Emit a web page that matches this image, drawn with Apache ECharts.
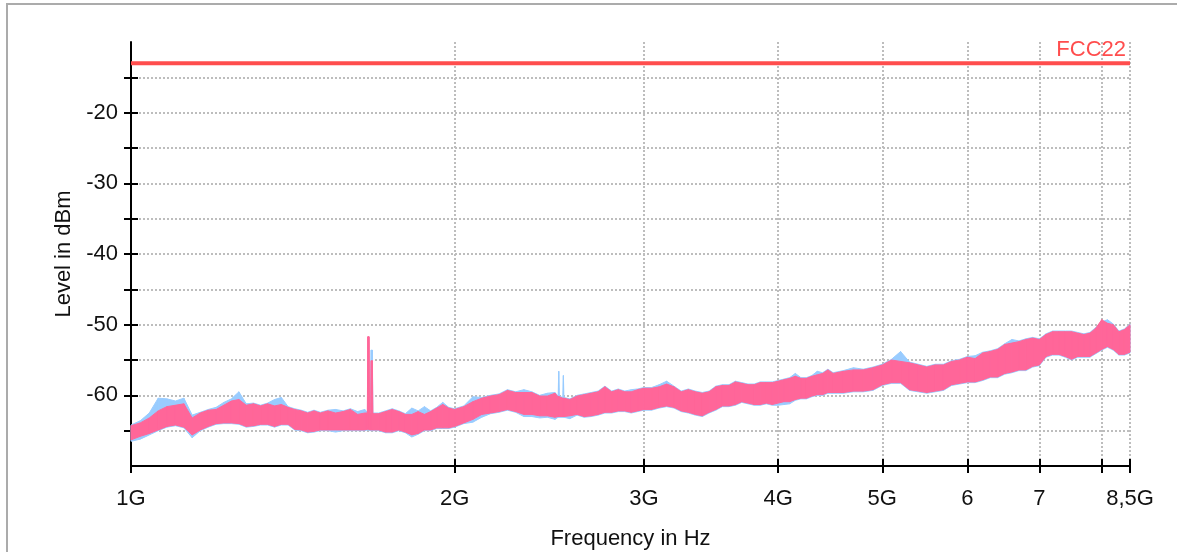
<!DOCTYPE html>
<html>
<head>
<meta charset="utf-8">
<title>Level in dBm vs frequency</title>
<script src="https://cdn.jsdelivr.net/npm/echarts@6/dist/echarts.min.js"></script>
<style>
  html, body { margin: 0; padding: 0; background: #fff; overflow: hidden; }
  #frame {
    position: absolute; left: 6px; top: 3px; width: 1300px; height: 700px;
    border: 2px solid #ababab; box-sizing: border-box;
  }
  #main { position: absolute; left: 0; top: 0; width: 1177px; height: 552px; }
</style>
</head>
<body>
<div id="frame"></div>
<div id="main"></div>
<script>
// frequency in GHz
const freqGHz = [
  1.00, 1.02, 1.04, 1.06, 1.08, 1.10, 1.12, 1.14, 1.16, 1.18,
  1.20, 1.22, 1.24, 1.26, 1.28, 1.30, 1.32, 1.34, 1.36, 1.38,
  1.40, 1.42, 1.44, 1.46, 1.48, 1.50, 1.525, 1.55, 1.575, 1.60,
  1.625, 1.65, 1.659, 1.661, 1.665, 1.667, 1.671, 1.673, 1.677, 1.679,
  1.70, 1.725, 1.75, 1.775, 1.80, 1.825, 1.85, 1.875, 1.90, 1.925,
  1.95, 1.975, 2.00, 2.04, 2.08, 2.12, 2.16, 2.20, 2.24, 2.28,
  2.32, 2.36, 2.40, 2.44, 2.48, 2.497, 2.500, 2.503, 2.522, 2.525,
  2.528, 2.56, 2.60, 2.64, 2.68, 2.72, 2.76, 2.80, 2.84, 2.88,
  2.92, 2.96, 3.00, 3.05, 3.10, 3.15, 3.20, 3.25, 3.30, 3.35,
  3.40, 3.45, 3.50, 3.55, 3.60, 3.65, 3.70, 3.75, 3.80, 3.85,
  3.90, 3.95, 4.00, 4.05, 4.10, 4.15, 4.20, 4.25, 4.30, 4.35,
  4.40, 4.45, 4.50, 4.60, 4.70, 4.80, 4.90, 5.00, 5.10, 5.20,
  5.30, 5.40, 5.50, 5.60, 5.70, 5.80, 5.90, 6.00, 6.10, 6.20,
  6.30, 6.40, 6.50, 6.60, 6.70, 6.80, 6.90, 7.00, 7.10, 7.20,
  7.30, 7.40, 7.50, 7.60, 7.70, 7.80, 7.90, 8.00, 8.10, 8.20,
  8.30, 8.40, 8.50
];

// pink trace, top and bottom of the noise band (dBm)
const pinkHi = [
  -64.3, -63.9, -63.2, -62.2, -61.6, -61.4, -61.2, -63.2, -62.5, -62.1,
  -62.0, -61.4, -60.8, -60.6, -61.4, -61.2, -61.5, -61.2, -61.5, -61.3,
  -61.7, -62.0, -62.2, -62.5, -62.2, -62.5, -62.2, -62.5, -62.3, -62.0,
  -62.7, -62.5, -62.5, -51.7, -51.7, -62.6, -62.6, -55.1, -55.1, -62.6,
  -62.6, -62.3, -62.0, -62.3, -62.7, -62.7, -62.3, -62.7, -62.3, -61.8,
  -61.3, -61.8, -62.0, -61.6, -60.9, -60.4, -60.1, -59.9, -59.3, -59.6,
  -59.6, -59.6, -60.1, -60.1, -59.7, -60.2, -60.2, -60.2, -60.4, -60.4,
  -60.4, -60.6, -60.1, -59.9, -59.7, -59.5, -58.8, -59.5, -59.2, -59.5,
  -59.5, -59.2, -59.0, -59.0, -58.8, -58.4, -58.8, -59.5, -59.2, -59.5,
  -59.7, -59.5, -58.8, -58.6, -58.6, -58.1, -58.3, -58.5, -58.5, -58.2,
  -58.2, -58.2, -58.0, -57.8, -57.6, -57.3, -57.6, -57.6, -57.3, -57.1,
  -56.9, -56.4, -56.9, -56.6, -56.4, -56.4, -56.1, -55.7, -55.0, -55.2,
  -55.4, -55.7, -56.0, -55.7, -55.7, -55.2, -55.0, -54.6, -54.8, -54.0,
  -53.8, -53.5, -52.8, -52.6, -52.4, -52.1, -51.9, -52.1, -51.4, -51.0,
  -51.0, -51.0, -51.0, -51.2, -51.4, -51.2, -50.5, -49.3, -49.8, -50.0,
  -51.0, -50.7, -50.0
];
const pinkLo = [
  -66.3, -65.8, -65.4, -64.9, -64.4, -64.2, -64.5, -65.6, -64.9, -64.4,
  -64.0, -63.9, -63.9, -64.0, -64.4, -64.3, -64.1, -64.1, -64.4, -64.1,
  -64.1, -64.8, -64.9, -65.2, -65.1, -64.9, -64.9, -64.9, -64.9, -64.9,
  -64.9, -64.9, -64.8, -64.8, -64.8, -64.9, -64.9, -64.9, -64.9, -64.9,
  -64.9, -65.2, -65.2, -64.9, -65.2, -65.6, -65.4, -64.9, -64.9, -64.6,
  -64.6, -64.6, -64.4, -63.9, -63.4, -62.7, -62.5, -62.3, -62.0, -62.3,
  -62.7, -62.7, -62.9, -62.9, -63.1, -63.0, -63.0, -63.0, -63.0, -63.0,
  -63.0, -62.9, -62.7, -63.0, -62.9, -62.7, -62.4, -62.4, -62.2, -62.2,
  -62.4, -62.2, -62.0, -62.0, -61.7, -61.5, -61.7, -62.2, -62.4, -62.7,
  -62.9, -62.4, -62.0, -61.5, -61.5, -61.3, -60.9, -61.1, -61.3, -61.3,
  -61.1, -61.3, -61.1, -60.9, -60.9, -60.6, -60.4, -60.4, -60.1, -59.9,
  -59.9, -59.6, -59.6, -59.6, -59.4, -59.4, -59.2, -58.5, -58.2, -58.2,
  -59.2, -59.4, -59.6, -59.4, -59.2, -58.5, -58.3, -58.1, -58.1, -57.8,
  -57.4, -57.4, -56.9, -56.7, -56.4, -56.4, -55.9, -55.7, -54.5, -54.2,
  -54.2, -54.5, -54.9, -54.5, -54.5, -54.5, -54.0, -53.5, -53.1, -53.5,
  -54.2, -54.2, -53.9
];

// blue trace, top and bottom of the noise band (dBm)
const blueHi = [
  -64.2, -63.6, -62.5, -60.4, -60.5, -60.8, -60.4, -62.8, -62.4, -62.0,
  -61.7, -61.0, -60.5, -59.5, -61.2, -61.1, -61.4, -61.1, -60.6, -60.3,
  -61.6, -61.9, -62.1, -62.4, -62.1, -62.4, -62.1, -62.0, -62.2, -61.9,
  -62.3, -62.0, -62.4, -62.4, -62.4, -62.5, -62.5, -53.6, -53.6, -62.5,
  -62.5, -62.2, -61.9, -62.2, -62.6, -61.8, -62.2, -61.6, -62.2, -61.7,
  -61.0, -61.7, -61.9, -61.5, -60.2, -60.3, -60.0, -59.8, -59.2, -59.5,
  -59.2, -59.5, -60.0, -59.7, -59.6, -60.1, -56.6, -60.1, -60.3, -57.2,
  -60.3, -60.5, -60.0, -59.8, -59.6, -59.4, -58.7, -59.4, -59.1, -59.4,
  -59.2, -59.1, -58.9, -58.9, -58.5, -58.0, -58.7, -59.4, -59.1, -59.4,
  -59.6, -59.4, -58.7, -58.5, -58.5, -58.0, -58.2, -58.4, -58.4, -58.1,
  -58.1, -58.1, -57.9, -57.7, -57.5, -56.9, -57.5, -57.5, -57.2, -56.6,
  -56.8, -56.3, -56.8, -56.5, -56.1, -56.3, -56.0, -55.6, -54.9, -53.8,
  -55.3, -55.6, -55.9, -55.6, -55.6, -55.1, -54.9, -54.5, -54.4, -53.9,
  -53.7, -53.4, -52.7, -52.1, -52.3, -52.0, -51.8, -52.0, -51.3, -50.9,
  -50.9, -50.9, -50.9, -51.1, -51.3, -51.1, -50.4, -49.6, -49.3, -49.9,
  -50.9, -50.6, -49.9
];
const blueLo = [
  -66.5, -66.2, -65.6, -65.0, -64.5, -64.3, -64.6, -66.0, -65.0, -64.5,
  -64.1, -64.0, -64.0, -64.1, -64.5, -64.4, -64.2, -64.2, -64.5, -64.2,
  -64.2, -64.9, -65.0, -65.3, -65.2, -65.0, -65.0, -65.2, -65.0, -65.0,
  -65.0, -65.0, -64.9, -64.9, -64.9, -65.0, -65.0, -65.0, -65.0, -65.0,
  -65.0, -65.3, -65.3, -65.0, -65.3, -65.9, -65.5, -65.0, -65.0, -64.7,
  -64.7, -64.7, -64.5, -64.0, -63.8, -63.1, -62.6, -62.4, -62.1, -62.4,
  -63.0, -63.0, -63.2, -63.1, -63.4, -63.1, -63.1, -63.1, -63.1, -63.1,
  -63.1, -63.3, -62.8, -63.1, -63.0, -62.8, -62.5, -62.5, -62.3, -62.3,
  -62.5, -62.3, -62.1, -62.1, -61.8, -61.6, -61.8, -62.3, -62.5, -62.8,
  -63.0, -62.5, -62.1, -61.6, -61.6, -61.4, -61.0, -61.2, -61.4, -61.4,
  -61.2, -61.4, -61.4, -61.3, -61.2, -60.7, -60.5, -60.5, -60.2, -60.0,
  -60.0, -59.7, -59.7, -59.7, -59.5, -59.5, -59.3, -58.6, -58.3, -58.3,
  -59.3, -59.5, -59.7, -59.5, -59.3, -58.6, -58.4, -58.2, -58.2, -57.9,
  -57.5, -57.5, -57.0, -56.8, -56.5, -56.5, -56.0, -55.8, -54.6, -54.3,
  -54.3, -54.6, -55.0, -54.6, -54.6, -54.6, -54.1, -53.6, -53.2, -53.6,
  -54.3, -54.3, -54.0
];

// limit line
const limitName = "FCC22";
const limitLevel = -13;

// axes
const xTickValues = [1, 2, 3, 4, 5, 6, 7, 8, 8.5];
const xLabelValues = [1, 2, 3, 4, 5, 6, 7, 8.5];
const xLabelText = ["1G", "2G", "3G", "4G", "5G", "6", "7", "8,5G"];
const yTickValues = [-65, -60, -55, -50, -45, -40, -35, -30, -25, -20, -15];
const yLabelValues = [-60, -50, -40, -30, -20];

const FONT = '"Liberation Sans", Arial, Helvetica, sans-serif';
const PINK = "#ff6699";
const BLUE = "#99ccff";
const RED = "#ff4d4d";
const GRID = "#bdbdbd";

let myChart = echarts.init(document.getElementById("main"), null, { renderer: "canvas" });

// noise band: one filled quad per frequency step, [f, lo, hi, fNext, loNext, hiNext]
function band(name, lo, hi, color) {
  const data = [];
  for (let i = 0; i < freqGHz.length - 1; i++) {
    data.push([freqGHz[i], lo[i], hi[i], freqGHz[i + 1], lo[i + 1], hi[i + 1]]);
  }
  return {
    name: name, type: "custom", silent: true, data: data,
    encode: { x: [0, 3], y: [1, 2, 4, 5] },
    renderItem: function (params, api) {
      const pts = [
        api.coord([api.value(0), api.value(1)]),
        api.coord([api.value(0), api.value(2)]),
        api.coord([api.value(3), api.value(5)]),
        api.coord([api.value(3), api.value(4)]),
      ];
      return {
        type: "polygon",
        shape: { points: pts },
        style: { fill: color, stroke: color, lineWidth: 1 },
      };
    },
  };
}

function xLabel(v) {
  const i = xLabelValues.findIndex((t) => Math.abs(t - v) < 1e-3);
  return i < 0 ? "" : xLabelText[i];
}

const axisLine = { show: true, onZero: false, lineStyle: { color: "#000", width: 2 } };
const tickStyle = { color: "#000", width: 2 };

let option = {
  animation: false,
  backgroundColor: "transparent",
  grid: { left: 131, right: 47, top: 42, bottom: 86, outerBoundsMode: "none" },
  xAxis: [
    {
      type: "log", logBase: 10, min: 1, max: 8.5, position: "bottom",
      name: "Frequency in Hz", nameLocation: "middle", nameGap: 62,
      nameTextStyle: { color: "#111", fontSize: 22, fontFamily: FONT },
      axisLine: axisLine,
      axisTick: { show: true, inside: false, length: 7, lineStyle: tickStyle, customValues: xTickValues },
      axisLabel: {
        customValues: xLabelValues, formatter: xLabel, margin: 22,
        color: "#111", fontSize: 22, fontFamily: FONT,
      },
      splitLine: { show: true, lineStyle: { color: GRID, width: 2, type: [2, 2] } },
      minorTick: { show: false },
    },
    {
      type: "log", logBase: 10, min: 1, max: 8.5, position: "bottom",
      axisLine: { show: false },
      axisTick: { show: true, inside: true, length: 7, lineStyle: tickStyle, customValues: xTickValues },
      axisLabel: { show: false },
      splitLine: { show: false },
    },
  ],
  yAxis: [
    {
      type: "value", min: -70, max: -10, interval: 5, position: "left",
      name: "Level in dBm", nameLocation: "middle", nameGap: 56, nameRotate: 90,
      nameTextStyle: { color: "#111", fontSize: 22, fontFamily: FONT },
      axisLine: axisLine,
      axisTick: { show: true, inside: false, length: 7, lineStyle: tickStyle, customValues: yTickValues },
      axisLabel: { customValues: yLabelValues, margin: 13, color: "#111", fontSize: 22, fontFamily: FONT },
      splitLine: { show: true, lineStyle: { color: GRID, width: 2, type: [2, 2] } },
    },
    {
      type: "value", min: -70, max: -10, interval: 5, position: "left",
      axisLine: { show: false },
      axisTick: { show: true, inside: true, length: 7, lineStyle: tickStyle, customValues: yTickValues },
      axisLabel: { show: false },
      splitLine: { show: false },
    },
  ],
  series: [
    band("blue", blueLo, blueHi, BLUE),
    band("pink", pinkLo, pinkHi, PINK),
    {
      name: limitName, type: "line", symbol: "none", silent: true, z: 5,
      data: [[xTickValues[0], limitLevel], [xTickValues[xTickValues.length - 1], limitLevel]],
      lineStyle: { color: RED, width: 4 },
      endLabel: {
        show: true, formatter: limitName, align: "right", verticalAlign: "bottom",
        distance: 0, offset: [-4, -2], color: RED, fontSize: 22, fontFamily: FONT,
      },
    },
  ],
};
myChart.setOption(option);
</script>
</body>
</html>
